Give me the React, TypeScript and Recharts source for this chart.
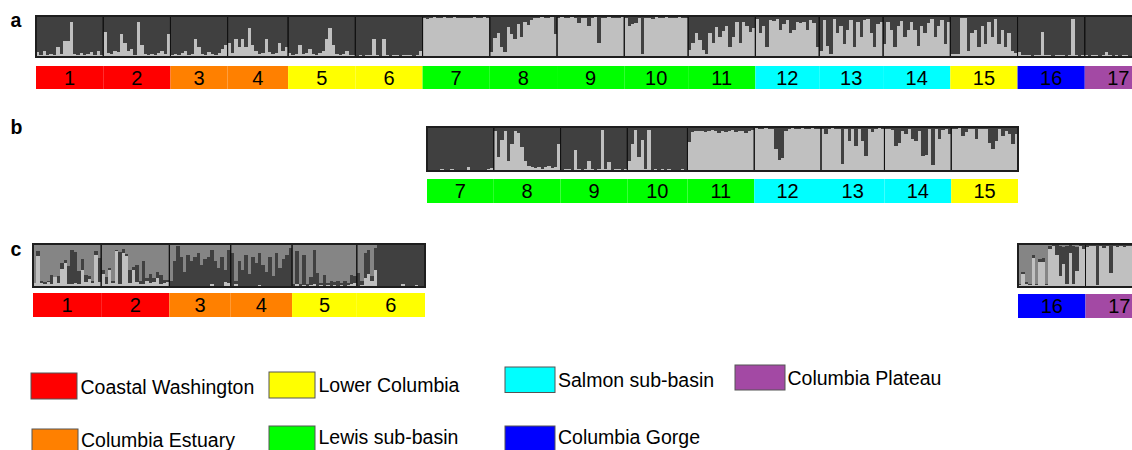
import { BarChart, Bar, XAxis, YAxis, ReferenceArea } from "recharts";

const FONT = '"Liberation Sans", Arial, Helvetica, sans-serif';
const LIGHT = "#c0c0c0";
const DARK = "#404040";
const MID = "#858585";

const REGION_COLORS: Record<string, string> = {
  coast: "#ff0000",
  estuary: "#ff8000",
  lower: "#ffff00",
  lewis: "#00ff00",
  salmon: "#00ffff",
  gorge: "#0000ff",
  plateau: "#a349a4",
};

const REGION_NAMES: Record<string, string> = {
  coast: "Coastal Washington",
  lower: "Lower Columbia",
  salmon: "Salmon sub-basin",
  plateau: "Columbia Plateau",
  estuary: "Columbia Estuary",
  lewis: "Lewis sub-basin",
  gorge: "Columbia Gorge",
};

const POP_REGION: Record<number, string> = {
  1: "coast", 2: "coast", 3: "estuary", 4: "estuary", 5: "lower", 6: "lower",
  7: "lewis", 8: "lewis", 9: "lewis", 10: "lewis", 11: "lewis",
  12: "salmon", 13: "salmon", 14: "salmon", 15: "lower", 16: "gorge", 17: "plateau",
};

// panel a: share (%) of the light cluster per individual, rest is dark
const a1 = [12, 6, 15, 5, 8, 6, 25, 8, 40, 38, 85, 8, 6, 10, 5, 8, 12, 6, 15, 5];
const a2 = [60, 10, 8, 15, 12, 55, 35, 15, 20, 6, 85, 30, 8, 6, 8, 6, 10, 15, 8, 55];
const a3 = [6, 8, 5, 10, 15, 6, 8, 45, 25, 8, 6, 12, 8, 6, 10, 20, 30];
const a4 = [35, 10, 45, 25, 45, 25, 70, 30, 15, 8, 10, 45, 12, 8, 10, 35, 15, 25];
const a5 = [10, 6, 8, 30, 8, 10, 20, 8, 6, 10, 15, 45, 70, 30, 8, 6, 8, 15, 6, 5];
const a6 = [3, 4, 3, 5, 4, 45, 4, 3, 45, 5, 3, 4, 5, 3, 4, 5, 4, 3, 5, 15];
const a7 = [95, 92, 96, 97, 95, 96, 97, 96, 94, 97, 96, 95, 94, 96, 95, 97, 94, 96, 97, 96];
const a8 = [11, 46, 59, 24, 11, 72, 55, 45, 80, 50, 85, 78, 90, 95, 96, 97, 95, 96, 97, 55];
const a9 = [96, 97, 95, 96, 97, 96, 84, 95, 96, 75, 96, 97, 33, 96, 95, 97, 96, 95, 96, 97];
const a10 = [96, 76, 80, 82, 95, 7, 96, 95, 92, 97, 96, 95, 97, 96, 95, 96, 97, 95, 96];
const a11 = [16, 33, 59, 41, 16, 7, 59, 33, 72, 50, 63, 76, 24, 50, 85, 33, 85, 76, 60, 70];
const a12 = [92, 58, 75, 24, 90, 88, 92, 66, 80, 90, 58, 66, 85, 82, 85, 66, 90, 82, 24];
const a13 = [15, 90, 28, 7, 92, 58, 75, 32, 66, 90, 24, 85, 49, 90, 92, 58, 24, 80, 85];
const a14 = [32, 85, 66, 24, 75, 88, 49, 66, 85, 66, 28, 75, 58, 82, 92, 49, 75, 90, 32, 85];
const a15 = [7, 7, 7, 95, 95, 15, 58, 66, 24, 75, 32, 85, 49, 92, 32, 66, 24, 58, 15, 10];
const a16 = [12, 5, 4, 6, 3, 5, 4, 61, 5, 4, 3, 6, 5, 4, 3, 5, 92, 4, 3, 5];
const a17 = [4, 3, 4, 5, 3, 4, 12, 4, 3, 4, 3, 5, 4, 3, 4, 3, 4, 5, 3, 4];

// panel b (populations 7-15 only)
const b7 = [3, 2, 3, 2, 4, 3, 2, 5, 3, 2, 3, 2, 8, 3, 2, 3, 2, 3, 4, 6];
const b8 = [90, 31, 70, 90, 23, 62, 90, 86, 55, 23, 12, 8, 6, 10, 5, 8, 12, 6, 10, 62];
const b9 = [3, 4, 5, 3, 47, 4, 3, 5, 23, 4, 3, 5, 94, 4, 20, 3, 5, 4, 3, 5];
const b10 = [23, 62, 94, 31, 70, 5, 94, 3, 4, 3, 5, 3, 4, 3, 2, 3, 4, 3];
const b11 = [66, 88, 90, 92, 90, 88, 92, 94, 90, 86, 92, 88, 90, 94, 88, 92, 90, 86, 92, 94];
const b12 = [97, 96, 95, 97, 96, 95, 49, 25, 30, 90, 96, 97, 95, 96, 97, 95, 96, 97, 96, 95];
const b13 = [96, 84, 95, 97, 96, 96, 17, 95, 69, 95, 57, 96, 69, 33, 96, 88, 95, 97, 96];
const b14 = [95, 96, 94, 57, 64, 90, 84, 96, 72, 69, 92, 33, 37, 95, 13, 96, 72, 94, 96, 84];
const b15 = [96, 95, 97, 80, 88, 95, 96, 72, 95, 96, 96, 64, 49, 69, 95, 80, 92, 84, 61, 84];

// panel c: light (bottom) and dark (middle) shares, medium cluster fills the rest
const c1Light = [10, 72, 10, 8, 12, 8, 23, 10, 43, 55, 8, 6, 10, 8, 39, 12, 18, 10, 75, 12];
const c1Dark = [0, 12, 5, 3, 2, 20, 0, 15, 12, 8, 40, 80, 72, 30, 25, 15, 8, 5, 8, 55];
const c2Light = [31, 8, 39, 10, 83, 6, 80, 72, 10, 39, 12, 8, 6, 15, 10, 12, 20, 8, 10, 12];
const c2Dark = [8, 15, 5, 3, 4, 75, 8, 5, 30, 8, 40, 5, 55, 5, 20, 10, 15, 20, 6, 5];
const c3Light = [2, 2, 3, 2, 2, 3, 2, 2, 3, 2, 2, 2, 8, 3, 2, 3, 12, 10];
const c3Dark = [13, 58, 92, 68, 33, 72, 58, 68, 77, 48, 63, 68, 77, 57, 43, 67, 28, 75];
const c4Light = [3, 8, 2, 2, 3, 2, 2, 3, 5, 2, 2, 3, 2, 2, 3, 2, 2, 3];
const c4Dark = [77, 7, 58, 38, 72, 28, 68, 52, 75, 48, 33, 67, 23, 78, 42, 63, 73, 87];
const c5Light = [3, 8, 3, 5, 3, 4, 6, 3, 4, 3, 5, 3, 4, 3, 5, 3, 4, 8, 10];
const c5Dark = [5, 75, 5, 70, 5, 20, 80, 30, 5, 25, 5, 12, 8, 10, 5, 10, 5, 20, 15];
const c6Light = [3, 5, 20, 30, 15, 40, 3, 2, 2, 3, 2, 2, 2, 8, 2, 2, 3, 5, 2, 3];
const c6Dark = [30, 10, 60, 55, 10, 50, 95, 96, 96, 95, 96, 96, 97, 90, 96, 96, 95, 93, 96, 95];
const c16Light = [5, 30, 8, 5, 67, 5, 58, 58, 5, 88, 95, 75, 25, 54, 8, 79, 6, 38, 95, 88];
const c16Dark = [3, 5, 3, 2, 8, 3, 8, 10, 3, 8, 3, 25, 70, 40, 88, 20, 90, 55, 3, 10];
const c17Light = [92, 95, 96, 4, 95, 90, 95, 33, 96, 94, 95, 92, 96, 95, 94, 96, 95, 94, 96, 95];
const c17Dark = [8, 5, 4, 96, 5, 10, 5, 67, 4, 6, 5, 8, 4, 5, 6, 4, 5, 6, 4, 5];

type Pop = { pop: number; light: number[]; dark?: number[] };

const PANEL_A: Pop[] = [
  { pop: 1, light: a1 }, { pop: 2, light: a2 }, { pop: 3, light: a3 }, { pop: 4, light: a4 },
  { pop: 5, light: a5 }, { pop: 6, light: a6 }, { pop: 7, light: a7 }, { pop: 8, light: a8 },
  { pop: 9, light: a9 }, { pop: 10, light: a10 }, { pop: 11, light: a11 }, { pop: 12, light: a12 },
  { pop: 13, light: a13 }, { pop: 14, light: a14 }, { pop: 15, light: a15 }, { pop: 16, light: a16 },
  { pop: 17, light: a17 },
];

const PANEL_B: Pop[] = [
  { pop: 7, light: b7 }, { pop: 8, light: b8 }, { pop: 9, light: b9 }, { pop: 10, light: b10 },
  { pop: 11, light: b11 }, { pop: 12, light: b12 }, { pop: 13, light: b13 }, { pop: 14, light: b14 },
  { pop: 15, light: b15 },
];

const PANEL_C_LEFT: Pop[] = [
  { pop: 1, light: c1Light, dark: c1Dark },
  { pop: 2, light: c2Light, dark: c2Dark },
  { pop: 3, light: c3Light, dark: c3Dark },
  { pop: 4, light: c4Light, dark: c4Dark },
  { pop: 5, light: c5Light, dark: c5Dark },
  { pop: 6, light: c6Light, dark: c6Dark },
];

const PANEL_C_RIGHT: Pop[] = [
  { pop: 16, light: c16Light, dark: c16Dark },
  { pop: 17, light: c17Light, dark: c17Dark },
];

function buildRows(key: string, pops: Pop[]) {
  const rows: any[] = [];
  pops.forEach((p) => {
    p.light.forEach((l, i) => {
      const d = p.dark ? p.dark[i] : 100 - l;
      rows.push({ id: `${key}-${p.pop}-${i}`, pop: p.pop, light: l, dark: d, mid: Math.max(0, 100 - l - d) });
    });
  });
  return rows;
}

type Frame = { left: number; right: number; boxTop: number; boxBottom: number; stripTop: number; stripBottom: number };

const M = 2;

function StructurePanel({ name, pops, frame, three }: { name: string; pops: Pop[]; frame: Frame; three?: boolean }) {
  const rows = buildRows(name, pops);
  const plotW = frame.right - frame.left;
  const boxH = frame.boxBottom - frame.boxTop;
  const low = -((frame.stripBottom - frame.boxBottom) / boxH) * 100;
  const stripHigh = -((frame.stripTop - frame.boxBottom) / boxH) * 100;
  const band = plotW / rows.length;

  // snap each bar to whole pixels so neighbours tile without seams
  const shape = (props: any) => {
    const { x, y, height, fill } = props;
    if (!height || height <= 0) return <g />;
    const x0 = Math.round(x);
    const x1 = Math.round(x + band);
    const y0 = Math.round(y);
    const y1 = Math.round(y + height);
    if (y1 <= y0) return <g />;
    return <rect x={x0} y={y0} width={x1 - x0} height={y1 - y0} fill={fill} />;
  };

  const firstOf = (p: Pop) => `${name}-${p.pop}-0`;
  const lastOf = (p: Pop) => `${name}-${p.pop}-${p.light.length - 1}`;

  return (
    <div style={{ position: "absolute", left: frame.left - M, top: frame.boxTop - M }}>
      <BarChart
        width={plotW + 2 * M}
        height={frame.stripBottom - frame.boxTop + 2 * M}
        data={rows}
        margin={{ top: M, right: M, bottom: M, left: M }}
        barCategoryGap={0}
        barGap={0}
      >
        <XAxis dataKey="id" hide />
        <YAxis hide type="number" domain={[low, 100]} allowDataOverflow />
        <Bar dataKey="light" stackId="q" fill={LIGHT} shape={shape} isAnimationActive={false} />
        <Bar dataKey="dark" stackId="q" fill={DARK} shape={shape} isAnimationActive={false} />
        {three && <Bar dataKey="mid" stackId="q" fill={MID} shape={shape} isAnimationActive={false} />}
        {pops.map((p) => (
          <ReferenceArea
            key={`strip-${p.pop}`}
            x1={firstOf(p)}
            x2={lastOf(p)}
            y1={low}
            y2={stripHigh}
            ifOverflow="visible"
            fill={REGION_COLORS[POP_REGION[p.pop]]}
            fillOpacity={1}
            stroke="none"
            label={{ value: String(p.pop), position: "center", fill: "#000", fontSize: 20, fontFamily: FONT }}
          />
        ))}
        {pops.map((p) => (
          <ReferenceArea
            key={`box-${p.pop}`}
            x1={firstOf(p)}
            x2={lastOf(p)}
            y1={0}
            y2={100}
            ifOverflow="visible"
            fill="none"
            fillOpacity={0}
            stroke="#111"
            strokeWidth={1}
            zIndex={1500}
          />
        ))}
        <ReferenceArea
          x1={firstOf(pops[0])}
          x2={lastOf(pops[pops.length - 1])}
          y1={0}
          y2={100}
          ifOverflow="visible"
          fill="none"
          fillOpacity={0}
          stroke="#1e1e1e"
          strokeWidth={2}
          zIndex={1600}
        />
      </BarChart>
    </div>
  );
}

const LEGEND_ORDER = ["coast", "lower", "salmon", "plateau", "estuary", "lewis", "gorge"];
const LEGEND_SLOTS = [
  { x: 31, y: 373, w: 46, h: 26, tx: 80.5, ty: 394 },
  { x: 269, y: 372, w: 46, h: 26, tx: 318.5, ty: 391.5 },
  { x: 505, y: 367, w: 50, h: 25.5, tx: 558, ty: 386.5 },
  { x: 735, y: 365, w: 50, h: 25, tx: 787.5, ty: 385 },
  { x: 32, y: 429, w: 46, h: 26, tx: 81, ty: 447 },
  { x: 269, y: 426, w: 46, h: 26, tx: 318.5, ty: 444 },
  { x: 505, y: 426, w: 50, h: 26, tx: 558, ty: 444 },
];

export default function App() {
  return (
    <div
      style={{
        position: "fixed",
        left: 0,
        top: 0,
        width: 1132,
        height: 450,
        overflow: "hidden",
        background: "#fff",
        fontFamily: FONT,
      }}
    >
      <StructurePanel
        name="a"
        pops={PANEL_A}
        frame={{ left: 36, right: 1152, boxTop: 16, boxBottom: 57, stripTop: 66, stripBottom: 89 }}
      />
      <StructurePanel
        name="b"
        pops={PANEL_B}
        frame={{ left: 427, right: 1018, boxTop: 127, boxBottom: 171, stripTop: 179, stripBottom: 203 }}
      />
      <StructurePanel
        name="cl"
        pops={PANEL_C_LEFT}
        three
        frame={{ left: 33, right: 425, boxTop: 244, boxBottom: 287, stripTop: 293, stripBottom: 317 }}
      />
      <StructurePanel
        name="cr"
        pops={PANEL_C_RIGHT}
        three
        frame={{ left: 1018, right: 1153, boxTop: 244, boxBottom: 287, stripTop: 294, stripBottom: 318 }}
      />
      <svg width={1132} height={450} style={{ position: "absolute", left: 0, top: 0, pointerEvents: "none" }}>
        <text x={10.5} y={27} fontSize={19.5} fontWeight="bold" fontFamily={FONT} fill="#000">a</text>
        <text x={10.5} y={134} fontSize={19.5} fontWeight="bold" fontFamily={FONT} fill="#000">b</text>
        <text x={10.5} y={256} fontSize={19.5} fontWeight="bold" fontFamily={FONT} fill="#000">c</text>
        {LEGEND_ORDER.map((r, i) => {
          const s = LEGEND_SLOTS[i];
          return (
            <g key={r}>
              <rect x={s.x} y={s.y} width={s.w} height={s.h} fill={REGION_COLORS[r]} stroke="#555" strokeWidth={1} />
              <text x={s.tx} y={s.ty} fontSize={19.5} fontFamily={FONT} fill="#000">
                {REGION_NAMES[r]}
              </text>
            </g>
          );
        })}
      </svg>
    </div>
  );
}
